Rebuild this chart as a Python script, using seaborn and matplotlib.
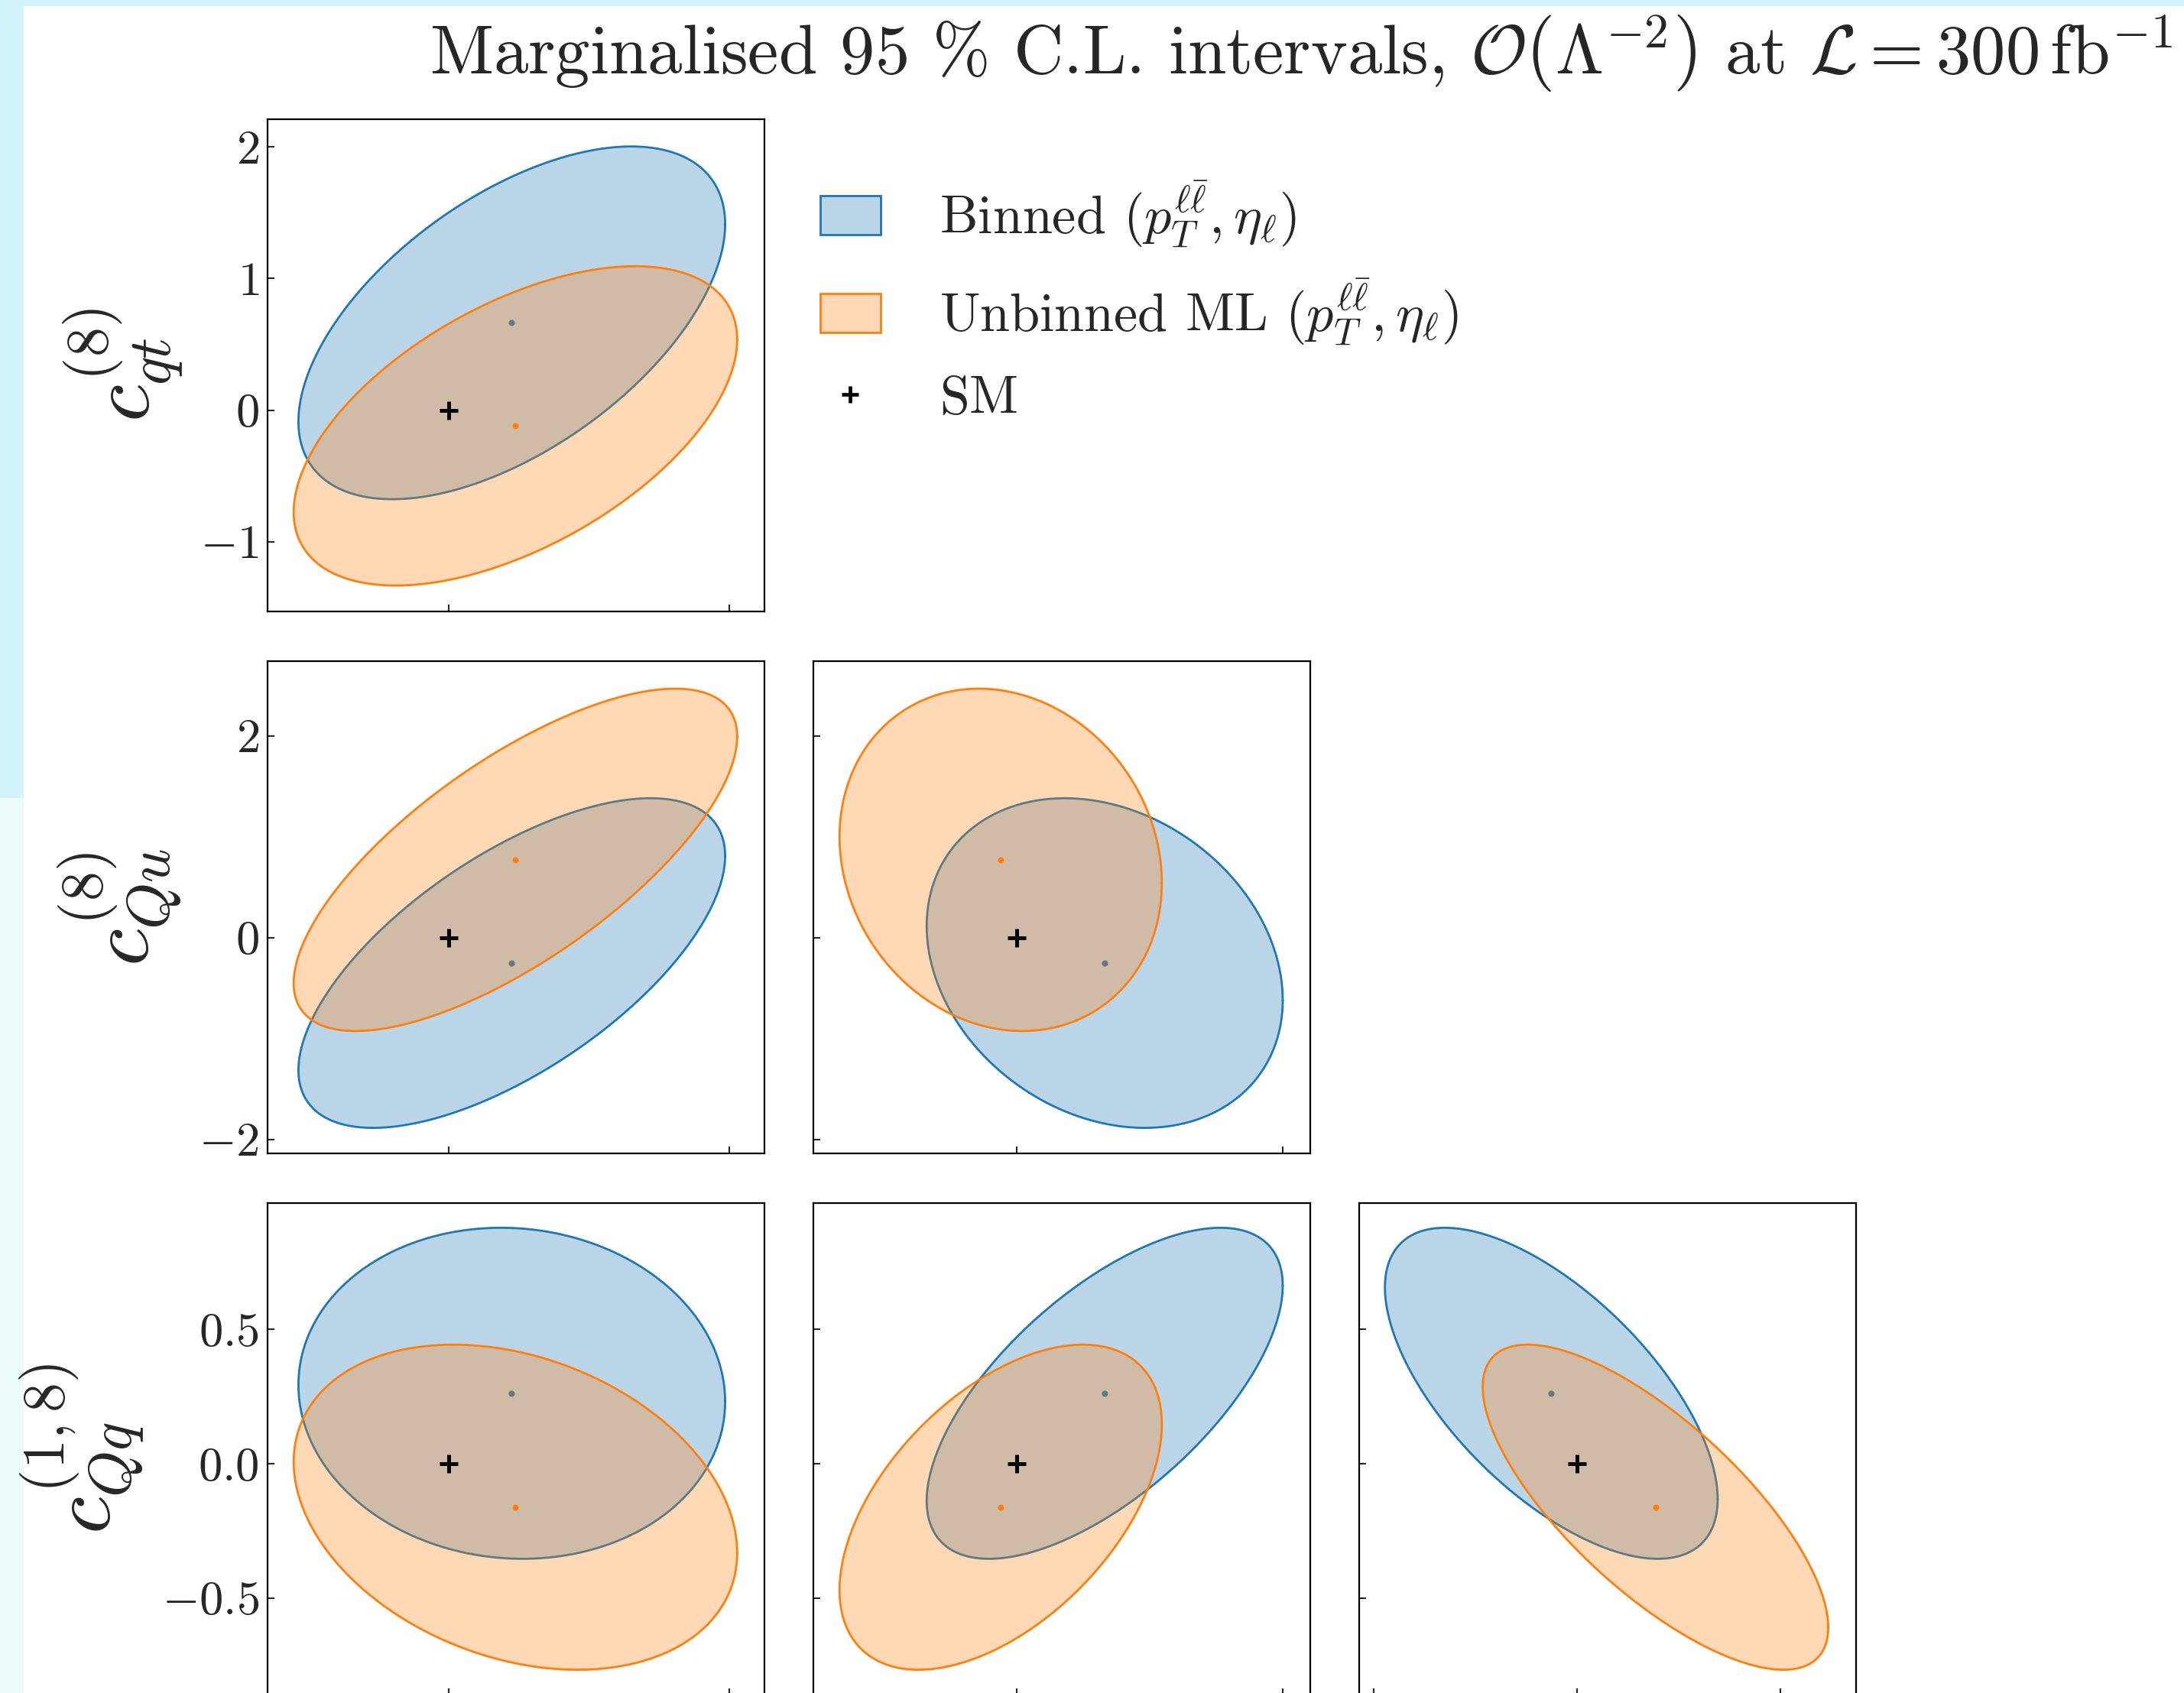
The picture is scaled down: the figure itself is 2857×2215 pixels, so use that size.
import numpy as np
import matplotlib
matplotlib.use("Agg")
import matplotlib.pyplot as plt
import matplotlib.patches as mpatches
from matplotlib.lines import Line2D
import seaborn as sns

# ---------------- data ----------------
# parameter order of the corner plot: column 0 parameter, c_qt^(8), c_Qu^(8), c_Qq^(1,8)
param_labels = [r"$c_{tu}^{(8)}$", r"$c_{qt}^{(8)}$", r"$c_{Qu}^{(8)}$", r"$c_{Qq}^{(1,8)}$"]

# best-fit points (centres of the 95% C.L. ellipses)
binned_best = [0.225, 0.663, -0.253, 0.262]
unbinned_best = [0.238, -0.120, 0.770, -0.162]
# half-widths of the marginalised 95% C.L. ellipses along each parameter
binned_half = [0.760, 1.340, 1.634, 0.616]
unbinned_half = [0.790, 1.213, 1.697, 0.605]
# pairwise correlations of the ellipses
pairs = [(0, 1), (0, 2), (0, 3), (1, 2), (1, 3), (2, 3)]
binned_rho = [0.56, 0.65, -0.05, -0.225, 0.65, -0.64]
unbinned_rho = [0.54, 0.72, -0.28, -0.135, 0.51, -0.74]
sm_point = [0.0, 0.0, 0.0, 0.0]

# axis ranges / ticks
param_limits = [(-0.645, 1.125), (-1.53, 2.21), (-2.14, 2.74), (-0.862, 0.970)]
col_xticks = [[0, 1], [0, 2], [-2, 0, 2]]
row_yticks = [[-1, 0, 1, 2], [-2, 0, 2], [-0.5, 0.0, 0.5]]

legend_labels = [r"Binned $(p_T^{\ell\bar{\ell}}, \eta_\ell)$",
                 r"Unbinned ML $(p_T^{\ell\bar{\ell}}, \eta_\ell)$",
                 "SM"]
title = (r"Marginalised 95 % C.L. intervals, $\mathcal{O}\left(\Lambda^{-2}_{\,}\right)$"
         r" at $\mathcal{L} = 300\,\mathrm{fb}^{-1}$")

# ---------------- style ----------------
sns.set_style("ticks")
plt.rcParams.update({
    "font.family": "serif",
    "font.serif": ["cmr10", "DejaVu Serif"],
    "mathtext.fontset": "cm",
    "axes.formatter.use_mathtext": True,
    "axes.unicode_minus": True,
    "axes.linewidth": 1.6,
    "axes.edgecolor": "black",
})

BLUE = "#1f77b4"
ORANGE = "#ff7f0e"

W, H = 2857, 2215
fig = plt.figure(figsize=(W / 100, H / 100), dpi=100)
fig.patch.set_facecolor("white")

# screenshot border of the reference
fig.patches.append(mpatches.Rectangle((0, 1 - 8 / H), 1, 8 / H, transform=fig.transFigure,
                                      facecolor="#d3f3fb", edgecolor="none", zorder=-10))
fig.patches.append(mpatches.Rectangle((0, 1 - 1044 / H), 31 / W, 1044 / H, transform=fig.transFigure,
                                      facecolor="#d3f3fb", edgecolor="none", zorder=-10))
fig.patches.append(mpatches.Rectangle((0, 0), 31 / W, 1 - 1044 / H, transform=fig.transFigure,
                                      facecolor="#effcfc", edgecolor="none", zorder=-10))

col_left = [350, 1064, 1778]
row_top = [156, 865, 1574]
AX_W, AX_H = 650, 644


def ellipse(cx, cy, hx, hy, rho, n=400):
    t = np.linspace(0, 2 * np.pi, n)
    x = cx + hx * np.cos(t)
    y = cy + hy * (rho * np.cos(t) + np.sqrt(1 - rho ** 2) * np.sin(t))
    return x, y


methods = [
    (binned_best, binned_half, binned_rho, BLUE, 2),
    (unbinned_best, unbinned_half, unbinned_rho, ORANGE, 3),
]

for r in range(3):
    py = r + 1
    for c in range(r + 1):
        px = c
        ax = fig.add_axes([col_left[c] / W, 1 - (row_top[r] + AX_H) / H, AX_W / W, AX_H / H])
        for best, half, rho_list, colr, z in methods:
            rho = rho_list[pairs.index((px, py))]
            ex, ey = ellipse(best[px], best[py], half[px], half[py], rho)
            ax.fill(ex, ey, color=colr, alpha=0.3, lw=0, zorder=z)
            sns.lineplot(x=ex, y=ey, sort=False, estimator=None, color=colr, lw=2.0,
                         ax=ax, zorder=z + 0.1)
            sns.scatterplot(x=[best[px]], y=[best[py]], color=colr, s=34, linewidth=0,
                            ax=ax, zorder=z + 0.2)
        ax.plot([sm_point[px]], [sm_point[py]], ls="none", marker="+", color="black",
                ms=17, mew=3.6, zorder=6)
        ax.set_xlim(param_limits[px])
        ax.set_ylim(param_limits[py])
        ax.set_xticks(col_xticks[c])
        ax.set_yticks(row_yticks[r])
        ax.tick_params(direction="in", length=6.5, width=1.5, labelsize=45, pad=8,
                       top=False, right=False)
        if c == 0:
            ax.set_ylabel(param_labels[py], fontsize=80, labelpad=14)
        else:
            ax.tick_params(labelleft=False)
        # the bottom row's x tick labels lie below the cropped edge of the reference
        ax.tick_params(labelbottom=False)
        for s in ax.spines.values():
            s.set_visible(True)
            s.set_linewidth(1.6)

handles = [
    mpatches.Patch(facecolor=(0.122, 0.467, 0.706, 0.3), edgecolor=BLUE, lw=2.0),
    mpatches.Patch(facecolor=(1.0, 0.498, 0.055, 0.3), edgecolor=ORANGE, lw=2.0),
    Line2D([], [], ls="none", marker="+", color="black", ms=16, mew=3.4),
]
fig.legend(handles, legend_labels, loc="upper left",
           bbox_to_anchor=(1073 / W, 1 - 234 / H), frameon=False, fontsize=50.5,
           borderpad=0, borderaxespad=0, handlelength=1.12, handleheight=0.75,
           handletextpad=1.1, labelspacing=0.52)

fig.text(2842 / W, 1 - 97 / H, title, ha="right", va="baseline", fontsize=65.3)

fig.savefig("out.png", dpi=100)
